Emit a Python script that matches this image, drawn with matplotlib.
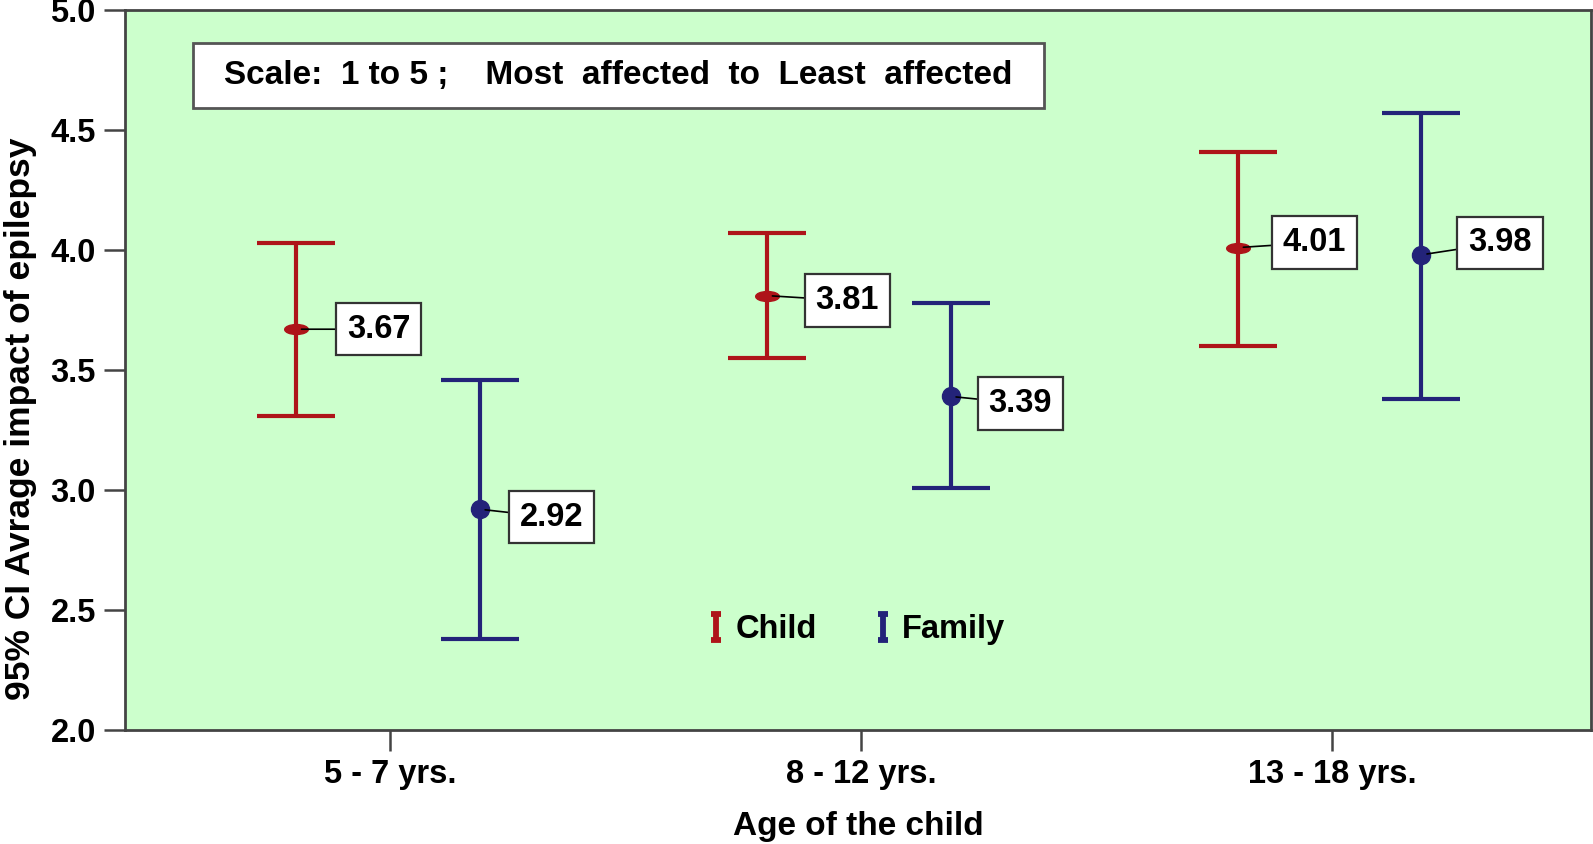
import matplotlib
matplotlib.use("Agg")
import matplotlib.pyplot as plt
import matplotlib.path as mpath
from matplotlib.patches import Rectangle
from matplotlib.lines import Line2D
import numpy as np

plt.rcParams['font.family'] = ['Liberation Sans', 'DejaVu Sans']

groups = ['5 - 7 yrs.', '8 - 12 yrs.', '13 - 18 yrs.']
series = ['Child', 'Family']
child_mean = [3.67, 3.81, 4.01]
child_low = [3.31, 3.55, 3.60]
child_high = [4.03, 4.07, 4.41]
family_mean = [2.92, 3.39, 3.98]
family_low = [2.38, 3.01, 3.38]
family_high = [3.46, 3.78, 4.57]
yticks = [2.0, 2.5, 3.0, 3.5, 4.0, 4.5, 5.0]
note = "Scale:  1 to 5 ;    Most  affected  to  Least  affected"

RED = '#AE1419'
BLUE = '#232379'
GREEN = '#CCFFCC'
SPINE = '#444444'
FS = 23.5

fig = plt.figure(figsize=(15.93, 8.44), dpi=100)
ax = fig.add_axes([125/1593, 1-730/844, 1466/1593, 720/844])
ax.set_facecolor(GREEN)

xc = np.arange(1, len(groups)+1)
offs = [-0.2, 0.19]

circ = mpath.Path.unit_circle()
ell = mpath.Path(circ.vertices * np.array([1.0, 0.42]), circ.codes)
ipath = mpath.Path([(-0.36, 1), (0.36, 1), (0, 1), (0, -1), (-0.36, -1), (0.36, -1)],
                   [mpath.Path.MOVETO, mpath.Path.LINETO, mpath.Path.MOVETO,
                    mpath.Path.LINETO, mpath.Path.MOVETO, mpath.Path.LINETO])

data = [(child_mean, child_low, child_high, RED, ell, 17),
        (family_mean, family_low, family_high, BLUE, 'o', 13)]
handles = []
lbl_dx = [[40, 38, 34], [29, 27, 36]]
lbl_dy = [[0, -5, 5], [-8, -7, 12]]
pad = 0.33
for si, (m, lo, hi, col, mk, ms) in enumerate(data):
    x = xc + offs[si]
    m = np.array(m); lo = np.array(lo); hi = np.array(hi)
    ax.errorbar(x, m, yerr=[m-lo, hi-m], fmt='none', ecolor=col,
                elinewidth=3, capsize=28, capthick=3, zorder=3)
    handles.append(Line2D([], [], linestyle='none', marker=ipath, markersize=19,
                          markeredgewidth=4.2, color=col, markerfacecolor='none',
                          label=series[si]))
    ax.plot(x, m, linestyle='none', marker=mk, markersize=ms, color=col, zorder=4)
    for i in range(len(groups)):
        pad_px = pad * FS * 100/72
        ax.annotate(f"{m[i]:.2f}", xy=(x[i], m[i]), xycoords='data',
                    xytext=(lbl_dx[si][i] + pad_px, lbl_dy[si][i]), textcoords='offset pixels',
                    ha='left', va='center', fontsize=FS, fontweight='bold',
                    bbox=dict(boxstyle=f'square,pad={pad}', fc='white', ec='#333333', lw=1.6),
                    arrowprops=dict(arrowstyle='-', color='black', lw=1.2, shrinkA=0, shrinkB=4),
                    zorder=5)

ax.set_xlim(0.437, 3.55)
ax.set_ylim(2.0, 5.0)
ax.set_xticks(xc)
ax.set_xticklabels(groups)
ax.set_yticks(yticks)
ax.set_yticklabels([f"{v:.1f}" for v in yticks])
ax.tick_params(axis='both', length=15, width=1.8, color=SPINE, labelsize=FS, pad=6)
for t in ax.get_xticklabels() + ax.get_yticklabels():
    t.set_fontweight('bold')
for s in ax.spines.values():
    s.set_color(SPINE)
    s.set_linewidth(2)

ax.set_xlabel('Age of the child', fontsize=24, fontweight='bold')
ax.xaxis.set_label_coords(0.5, -0.113)
ax.set_ylabel('95% CI Avrage impact of epilepsy', fontsize=25.5, fontweight='bold')
ax.yaxis.set_label_coords(-0.06, 0.432)

x0 = (193-125)/1466; x1 = (1044-125)/1466
y0 = (730-108)/720; y1 = (730-43)/720
ax.add_patch(Rectangle((x0, y0), x1-x0, y1-y0, transform=ax.transAxes,
                       fc='white', ec='#555555', lw=2, zorder=5))
ax.text((x0+x1)/2, (y0+y1)/2, note, transform=ax.transAxes, ha='center', va='center',
        fontsize=24, fontweight='bold', zorder=6)

ax.legend(handles=handles, loc='center', bbox_to_anchor=(0.4986, 0.139), ncol=2,
          frameon=False, prop={'weight': 'bold', 'size': FS},
          handlelength=0.6, handletextpad=0.3, columnspacing=1.7)

fig.savefig('out.png', dpi=100)
